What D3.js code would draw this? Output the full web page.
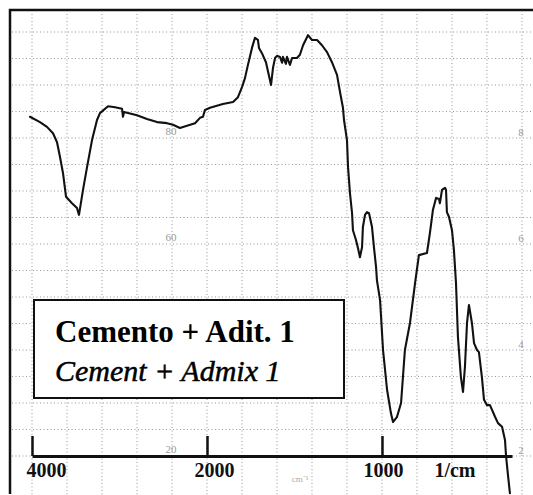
<!DOCTYPE html>
<html>
<head>
<meta charset="utf-8">
<script src="https://cdn.jsdelivr.net/npm/d3@7"></script>
<style>
  html, body { margin: 0; padding: 0; background: #fff; }
  svg { display: block; }
  .serif { font-family: "Liberation Serif", "Times New Roman", Times, serif; }
</style>
</head>
<body>
<svg id="chart" width="533" height="495"></svg>
<script>
// ---- data (wavenumber in 1/cm, transmittance in %T) ----
const wavenumbers = [4023,3909,3829,3760,3714,3680,3646,3611,3543,3486,3463,3417,3371,3314,3257,3223,3131,3051,2971,2960,2949,2800,2686,2571,2457,2389,2309,2229,2137,2080,
  2046,2023,1983,1909,1851,1823,1800,1783,1766,1743,1726,1709,1703,1686,1674,1663,1651,1634,1623,1611,1600,1583,1571,1566,1549,1543,1526,1514,1486,1469,1451,1423,1400,1371,1343,1314,1286,1257,1240,1223,
  1217,1200,1194,1183,1171,1166,1149,1137,1126,1114,1109,1097,1086,1074,1057,1046,1034,1029,
  1011,994,971,949,937,914,891,869,840,811,789,743,726,709,691,674,669,657,640,634,629,617,600,589,577,566,549,537,526,514,503,486,474,457,446,429,417,400,383,354,337,314,297,291,280,269];
const transmittance = [84.0,83.0,82.1,80.9,79.2,76.4,73.4,68.9,67.7,66.8,65.5,70.2,74.5,79.6,83.4,84.7,86.0,85.8,85.5,84.0,84.9,84.3,83.6,83.0,82.8,82.5,81.9,82.3,82.8,83.8,
  84.0,85.3,85.7,86.4,86.8,87.7,89.6,91.3,93.8,97.0,98.9,98.5,97.0,96.0,95.1,94.3,92.5,90.0,93.2,95.1,95.5,95.3,94.2,95.3,94.0,95.3,93.8,95.1,95.1,95.7,97.5,99.4,98.5,98.5,97.5,96.2,94.3,91.9,88.7,85.7,
  83.4,79.6,74.5,69.6,65.8,62.6,60.8,59.2,57.5,59.4,63.2,65.5,66.0,65.8,63.2,59.4,55.7,53.2,
  49.4,40.0,32.5,28.1,26.4,27.4,30.0,40.0,45.1,52.6,57.9,58.3,62.1,66.4,68.7,68.5,67.7,70.2,70.6,70.2,66.0,65.1,62.6,58.9,52.6,42.5,34.9,32.1,36.8,45.1,48.5,45.1,41.3,40.0,39.6,34.9,30.6,29.6,29.6,27.4,26.2,25.5,23.0,20.0,16.4,13.0];
const tickValues = [4000, 2000, 1000];
const tickLabels = ["4000", "2000", "1000"];
const unitLabel = "1/cm";
const gridWavenumbers = [4000,3600,3200,2800,2400,2000,1800,1600,1400,1200,1000,800,600,400,200];
const gridTransmittance = [20,25,30,35,40,45,50,55,60,65,70,75,80,85,90,95,100];
const paperLabels = ["80","60","20"];
const paperLabelT = [80,60,20];
const sideLabels = ["8","6","4","2"];
const sideLabelT = [80,60,40,20];
const legendLine1 = "Cemento + Adit. 1";
const legendLine2 = "Cement + Admix 1";

// ---- scales ----
const x = d3.scaleLinear().domain([4000, 2000, 257]).range([32, 207, 512]);
const y = d3.scaleLinear().domain([20, 100]).range([456, 32]);

const svg = d3.select("#chart");

// ---- dotted paper grid ----
const grid = svg.append("g").attr("stroke", "#555").attr("stroke-width", 1)
  .attr("stroke-dasharray", "1,2.5").attr("opacity", 0.6);
grid.selectAll("line.v").data(gridWavenumbers).join("line")
  .attr("class", "v")
  .attr("x1", d => x(d)).attr("x2", d => x(d))
  .attr("y1", 14).attr("y2", 495);
grid.selectAll("line.h").data(gridTransmittance).join("line")
  .attr("class", "h")
  .attr("x1", 12).attr("x2", 533)
  .attr("y1", d => y(d)).attr("y2", d => y(d));

// faint printed paper numbers
svg.append("g").selectAll("text").data(paperLabels).join("text")
  .attr("class", "serif")
  .attr("x", 171).attr("y", (d, i) => y(paperLabelT[i]) - 3)
  .attr("text-anchor", "middle")
  .style("font-size", "11px")
  .attr("fill", "#999").text(d => d);
svg.append("g").selectAll("text").data(sideLabels).join("text")
  .attr("class", "serif")
  .attr("x", 521).attr("y", (d, i) => y(sideLabelT[i]) - 2)
  .attr("text-anchor", "middle")
  .style("font-size", "11px")
  .attr("fill", "#999").text(d => d);
svg.append("text").attr("class", "serif").attr("x", 300).attr("y", 482)
  .attr("text-anchor", "middle")
  .style("font-size", "9px").attr("fill", "#aaa").text("cm⁻¹");

// ---- frame (top and left) ----
svg.append("path")
  .attr("d", d3.line()([[10, 494], [10, 10], [533, 10]]))
  .attr("fill", "none").attr("stroke", "#111").attr("stroke-width", 2.5);

// ---- x axis ----
const axis = d3.axisBottom(x)
  .tickValues(tickValues)
  .tickSize(-20)
  .tickSizeOuter(0)
  .tickFormat((d, i) => tickLabels[i]);
const gAxis = svg.append("g").attr("transform", `translate(0,${y(20)})`).call(axis);
gAxis.attr("font-family", null).attr("font-size", null);
gAxis.select(".domain").attr("stroke", "#111").attr("stroke-width", 3.2);
gAxis.selectAll(".tick line").attr("stroke", "#111").attr("stroke-width", 2.5);
const labelShift = {4000: 14, 2000: 7, 1000: 1};
gAxis.selectAll(".tick text")
  .attr("class", "serif")
  .attr("fill", "#111")
  .style("font-weight", "bold")
  .style("font-size", "20px")
  .attr("y", 21).attr("dy", 0)
  .attr("dx", d => labelShift[d]);
gAxis.append("text")
  .attr("class", "serif")
  .attr("x", x(1000) + 73).attr("y", 21)
  .attr("text-anchor", "middle")
  .attr("fill", "#111")
  .style("font-weight", "bold").style("font-size", "20px")
  .text(unitLabel);

// ---- spectrum ----
const pts = wavenumbers.map((w, i) => [w, transmittance[i]]);
svg.append("path")
  .datum(pts)
  .attr("fill", "none")
  .attr("stroke", "#111")
  .attr("stroke-width", 2.1)
  .attr("stroke-linejoin", "round")
  .attr("stroke-linecap", "round")
  .attr("d", d3.line().x(d => x(d[0])).y(d => y(d[1])));

// ---- legend box ----
const lg = svg.append("g");
lg.append("rect")
  .attr("x", 34).attr("y", 300).attr("width", 310).attr("height", 98)
  .attr("fill", "#fff").attr("stroke", "#111").attr("stroke-width", 2);
lg.append("text")
  .attr("class", "serif")
  .attr("x", 55).attr("y", 342)
  .style("font-weight", "bold").style("font-size", "31px")
  .attr("fill", "#000").text(legendLine1);
lg.append("text")
  .attr("class", "serif")
  .attr("x", 55).attr("y", 381)
  .style("font-style", "italic").style("font-size", "30px")
  .attr("fill", "#000").attr("stroke", "#000").attr("stroke-width", 0.5)
  .text(legendLine2);
</script>
</body>
</html>
